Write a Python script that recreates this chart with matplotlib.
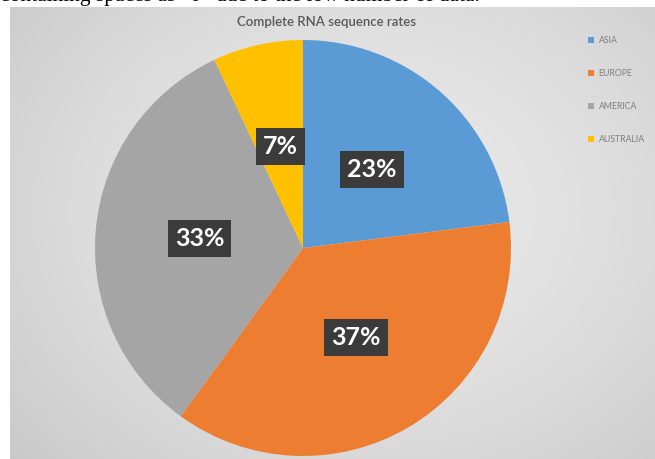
import numpy as np
import matplotlib
matplotlib.use("Agg")
import matplotlib.pyplot as plt

# ---- data ----
regions = ["ASIA", "EUROPE", "AMERICA", "AUSTRALIA"]
rates = [23, 37, 33, 7]
colors = ["#5B9BD5", "#ED7D31", "#A5A5A5", "#FFC000"]
title = "Complete RNA sequence rates"
page_text = "containing spaces as \u201c0\u201d due to the low number of data."

W, H = 655, 459
fig = plt.figure(figsize=(W / 100, H / 100), dpi=100)
fig.patch.set_facecolor("white")

# clipped line of page text above the chart
fig.text(0.0, 1 - 1.5 / H, page_text, family="Liberation Serif", fontsize=15.5,
         color="black", ha="left", va="baseline")

# gradient chart background
bg = fig.add_axes([10 / W, 0, (W - 10) / W, (H - 7) / H])
yy, xx = np.mgrid[0:1:200j, 0:1:300j]
d = np.sqrt(((xx - 0.55) / 0.75) ** 2 + ((yy - 0.55) / 0.85) ** 2)
g = 0.915 - 0.13 * np.clip(d, 0, 1.2) ** 1.6
bg.imshow(np.dstack([g, g, g]), aspect="auto", extent=[0, 1, 0, 1], origin="lower")
bg.set_axis_off()

bg.text((327 - 10) / (W - 10), 1 - (22 - 7) / (H - 7), title, family="Lato",
        fontsize=9.5, fontweight="semibold", color="#595959", ha="center",
        va="center", transform=bg.transAxes)

# pie
cx, cy, r = 303, 248, 208
ax = fig.add_axes([(cx - r) / W, (H - cy - r) / H, 2 * r / W, 2 * r / H])
ax.set_facecolor("none")
wedges, _, autotexts = ax.pie(
    rates, colors=colors, startangle=90, counterclock=False, radius=1,
    autopct=lambda p: f"{p:.0f}%", pctdistance=0.5,
    wedgeprops=dict(linewidth=0))
for t in autotexts:
    t.set_color("white")
    t.set_fontsize(18)
    t.set_fontweight("bold")
    t.set_family("Lato")
    t.set_bbox(dict(facecolor="#3B3B3B", edgecolor="none", pad=5))
ax.set_xlim(-1, 1)
ax.set_ylim(-1, 1)
ax.set_aspect("equal")
ax.set_axis_off()

leg = ax.legend(wedges, regions, loc="upper left",
                bbox_to_anchor=(588 / W, 1 - 36 / H), bbox_transform=fig.transFigure,
                frameon=False, labelspacing=2.75, handlelength=0.7,
                handleheight=0.7, handletextpad=0.5, borderpad=0, borderaxespad=0,
                prop=dict(family="Lato", size=6.3))
for t in leg.get_texts():
    t.set_color("#7F7F7F")

fig.savefig("out.png", dpi=100)
